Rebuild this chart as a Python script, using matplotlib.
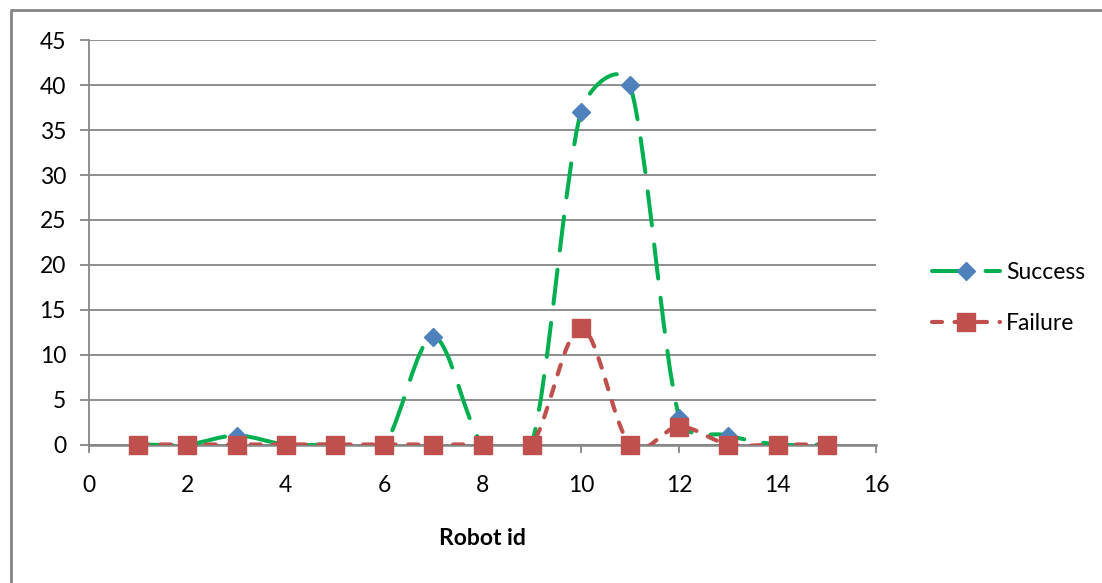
import numpy as np
import matplotlib
matplotlib.use("Agg")
import matplotlib.pyplot as plt
from matplotlib.path import Path
from matplotlib.patches import PathPatch
from matplotlib.lines import Line2D

robot_id = [1, 2, 3, 4, 5, 6, 7, 8, 9, 10, 11, 12, 13, 14, 15]
success = [0, 0, 1, 0, 0, 0, 12, 0, 0, 37, 40, 3, 1, 0, 0]
failure = [0, 0, 0, 0, 0, 0, 0, 0, 0, 13, 0, 2, 0, 0, 0]
series_names = ['Success', 'Failure']
x_ticks = list(range(0, 17, 2))
y_ticks = list(range(0, 46, 5))

GREEN = '#00B050'
BLUE = '#4F81BD'
RED = '#C0504D'
GRID = '#868686'

plt.rcParams['font.family'] = ['Lato', 'DejaVu Sans']
FS = 16.5

W, H = 1102, 583
fig = plt.figure(figsize=(W / 100, H / 100), dpi=100)
ax = fig.add_axes([89 / W, 1 - 444.5 / H, (876 - 89) / W, (444.5 - 40.3) / H])
ax.set_xlim(0, 16)
ax.set_ylim(0, 45)


def smooth_path(ax, xs, ys):
    # Excel style smoothed line: bezier segments, handles kept within half a segment
    pts = ax.transData.transform(np.column_stack([xs, ys]))
    n = len(pts)
    verts = [pts[0]]
    codes = [Path.MOVETO]
    for i in range(n - 1):
        p0 = pts[max(i - 1, 0)]
        p1 = pts[i]
        p2 = pts[i + 1]
        p3 = pts[min(i + 2, n - 1)]
        d12 = np.hypot(*(p2 - p1))
        t1 = (p2 - p0) / (3 if i == 0 else 6)
        t2 = (p3 - p1) / (3 if i + 2 > n - 1 else 6)
        l1 = np.hypot(*t1)
        l2 = np.hypot(*t2)
        if l1 > d12 / 2:
            t1 = t1 * (d12 / 2) / l1
        if l2 > d12 / 2:
            t2 = t2 * (d12 / 2) / l2
        verts += [p1 + t1, p2 - t2, p2]
        codes += [Path.CURVE4] * 3
    verts = ax.transData.inverted().transform(np.array(verts))
    return Path(verts, codes)


succ_dash = (0, (8.5, 4.8))
fail_dash = (0, (2.4, 3.0))

p = PathPatch(smooth_path(ax, robot_id, success), fill=False, edgecolor=GREEN,
              lw=2.9, linestyle=succ_dash, capstyle='round', zorder=3)
ax.add_patch(p)
ax.plot(robot_id, success, linestyle='none', marker='D', ms=9.2, color=BLUE,
        mec=BLUE, clip_on=False, zorder=4)

p = PathPatch(smooth_path(ax, robot_id, failure), fill=False, edgecolor=RED,
              lw=3.0, linestyle=fail_dash, capstyle='round', zorder=5)
ax.add_patch(p)
ax.plot(robot_id, failure, linestyle='none', marker='s', ms=13.4, color=RED,
        mec=RED, clip_on=False, zorder=6)

ax.set_xticks(x_ticks)
ax.set_yticks(y_ticks)
ax.yaxis.grid(True, color=GRID, lw=1.3)
ax.set_axisbelow(True)
for s in ['top', 'right']:
    ax.spines[s].set_visible(False)
ax.spines['left'].set_color(GRID)
ax.spines['left'].set_linewidth(1.3)
ax.spines['bottom'].set_color(GRID)
ax.spines['bottom'].set_linewidth(1.8)
ax.tick_params(axis='y', direction='out', length=6.5, width=1.3, color=GRID,
               pad=10, labelsize=FS)
ax.tick_params(axis='x', direction='out', length=5.8, width=1.3, color=GRID,
               pad=16, labelsize=FS)
ax.set_xlabel('Robot id', fontsize=FS, fontweight='bold', labelpad=23)

handles = [
    Line2D([], [], color=GREEN, lw=2.9, linestyle=succ_dash, dash_capstyle='round',
           marker='D', ms=9.2, mfc=BLUE, mec=BLUE),
    Line2D([], [], color=RED, lw=3.0, linestyle=fail_dash, dash_capstyle='round',
           marker='s', ms=13.4, mfc=RED, mec=RED),
]
fpx = FS * 100 / 72
ax.legend(handles, series_names, loc='center left',
          bbox_to_anchor=(932 / W, 1 - 298 / H), bbox_transform=fig.transFigure,
          frameon=False, fontsize=FS, handlelength=68 / fpx, handletextpad=6 / fpx,
          labelspacing=1.3, borderpad=0, borderaxespad=0)

fig.add_artist(Line2D([11 / W, 11 / W, 1], [0, 1 - 10 / H, 1 - 10 / H],
                      transform=fig.transFigure, color='#858585', lw=2))

fig.savefig('out.png', dpi=100)
